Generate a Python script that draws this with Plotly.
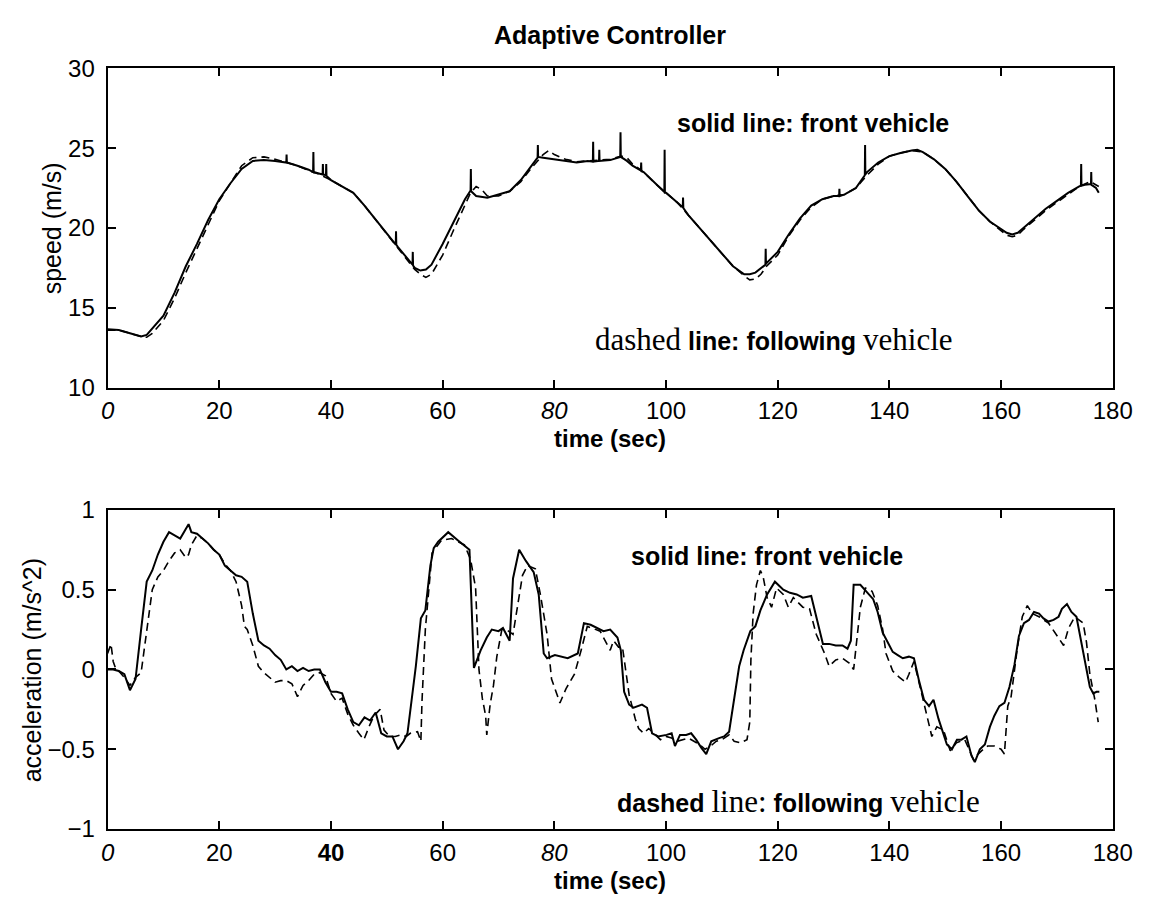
import plotly.graph_objects as go

# ---------------- data ----------------
speed_front_t = [0, 2, 4, 6, 7, 8, 10, 12, 14, 16, 18, 20, 22, 24, 26, 28, 30, 32, 32.05, 32.1, 34, 36,
                 36.8, 36.85, 36.9, 38, 38.5, 38.55, 38.6, 39.1, 39.15, 39.2, 40, 42, 44, 46, 48, 50,
                 51.6, 51.65, 51.7, 52, 54, 54.6, 54.65, 54.7, 55, 56, 57, 58, 60, 62, 64, 65, 65.05, 65.1,
                 66, 68, 70, 72, 74, 76, 77, 77.05, 77.1, 78, 80, 82, 84, 86, 86.9, 86.95, 87, 88, 88.05,
                 88.1, 90, 91.8, 91.85, 91.9, 93, 94, 95.5, 95.55, 95.6, 96, 98, 99.7, 99.75, 99.8, 100,
                 102, 103, 103.05, 103.1, 104, 106, 108, 110, 112, 114, 115, 116, 117, 117.8, 117.85,
                 117.9, 118, 120, 122, 124, 126, 128, 130, 131, 131.05, 131.1, 132, 134, 135, 135.6,
                 135.65, 135.7, 136, 137, 138, 140, 142, 144, 145, 146, 148, 150, 152, 154, 156, 158,
                 160, 161, 162, 163, 164, 166, 168, 170, 172, 174, 174.3, 174.35, 174.4, 175, 176.1,
                 176.15, 176.2, 177, 177.5]
speed_front = [13.65, 13.6, 13.4, 13.2, 13.3, 13.7, 14.5, 15.95, 17.6, 19.0, 20.5, 21.8, 22.8, 23.7, 24.2,
               24.25, 24.2, 24.1, 24.6, 24.1, 23.9, 23.65, 23.5, 24.75, 23.5, 23.4, 23.35, 24.0, 23.35,
               23.3, 24.0, 23.25, 23.0, 22.6, 22.2, 21.4, 20.5, 19.6, 18.95, 19.8, 18.95, 18.8, 17.9,
               17.7, 18.5, 17.65, 17.5, 17.33, 17.4, 17.7, 19.0, 20.4, 21.8, 22.35, 23.7, 22.3, 22.0,
               21.9, 22.1, 22.3, 23.0, 23.9, 24.4, 25.2, 24.45, 24.4, 24.3, 24.2, 24.1, 24.2, 24.15,
               25.4, 24.15, 24.2, 24.9, 24.2, 24.25, 24.45, 26.0, 24.45, 24.2, 23.9, 23.6, 24.1, 23.55,
               23.5, 22.8, 22.25, 24.9, 22.2, 22.2, 21.6, 21.3, 21.9, 21.25, 20.8, 20.0, 19.2, 18.4,
               17.6, 17.1, 17.1, 17.2, 17.45, 17.7, 18.7, 17.75, 17.8, 18.5, 19.6, 20.6, 21.4, 21.8,
               22.0, 22.0, 22.45, 22.0, 22.1, 22.5, 23.0, 23.3, 25.2, 23.35, 23.5, 23.8, 24.1, 24.5,
               24.7, 24.85, 24.9, 24.75, 24.3, 23.7, 22.9, 22.0, 21.1, 20.4, 19.9, 19.7, 19.6, 19.7,
               20.0, 20.6, 21.2, 21.7, 22.2, 22.6, 22.65, 24.0, 22.65, 22.7, 22.75, 23.5, 22.7, 22.5,
               22.2]

speed_follow_t = [0, 2, 4, 6, 7, 8, 10, 12, 14, 16, 18, 20, 22, 24, 26, 28, 30, 32, 34, 36, 38, 40, 42,
                  44, 46, 48, 50, 52, 54, 55, 56, 57, 58, 60, 62, 64, 65, 66, 67, 68, 70, 72, 74, 76, 78,
                  79, 80, 82, 84, 86, 88, 90, 92, 93, 94, 96, 98, 100, 102, 104, 106, 108, 110, 112, 114,
                  115, 116, 117, 118, 120, 122, 124, 126, 128, 130, 132, 134, 136, 138, 140, 142, 144,
                  146, 148, 150, 152, 154, 156, 158, 160, 161, 162, 163, 164, 166, 168, 170, 172, 174,
                  176, 177.5]
speed_follow = [13.6, 13.6, 13.4, 13.2, 13.15, 13.4, 14.2, 15.6, 17.2, 18.7, 20.3, 21.7, 22.8, 23.9,
                24.4, 24.45, 24.3, 24.1, 23.9, 23.6, 23.35, 23.0, 22.6, 22.2, 21.4, 20.5, 19.6, 18.7,
                17.8, 17.4, 17.1, 16.9, 17.1, 18.3, 19.9, 21.4, 22.2, 22.6, 22.4, 22.0, 22.0, 22.3,
                22.9, 23.8, 24.6, 24.85, 24.6, 24.3, 24.15, 24.2, 24.25, 24.3, 24.5, 24.4, 24.0, 23.5,
                22.8, 22.2, 21.6, 20.8, 20.0, 19.2, 18.4, 17.6, 17.0, 16.75, 16.8, 17.1, 17.6, 18.3,
                19.5, 20.5, 21.3, 21.8, 22.0, 22.1, 22.5, 23.3, 24.0, 24.5, 24.7, 24.85, 24.75, 24.3,
                23.7, 22.9, 22.0, 21.1, 20.4, 19.8, 19.55, 19.45, 19.55, 19.9, 20.5, 21.1, 21.6, 22.1,
                22.6, 22.9, 22.6]

accel_front_t = [0, 1, 2, 3, 4, 5, 6, 7, 8, 9, 10, 11, 12, 13, 14, 14.5, 15, 16, 17, 18, 19, 20, 21, 22,
                 23, 24, 25, 26, 27, 28, 29, 30, 31, 32, 33, 34, 35, 36, 37, 38, 39, 40, 41, 42, 43, 44,
                 45, 46, 47, 48, 49, 50, 51, 52, 53, 53.7, 54.3, 55.2, 56.1, 56.9, 57.8, 58.4, 59.2, 61,
                 62.7, 64.8, 65.6, 66.8, 67.9, 68.8, 70, 70.8, 72, 72.6, 73.7, 74.9, 76.3, 77.2, 78.1,
                 78.7, 80.1, 81.3, 82.4, 84.2, 85.3, 86.5, 87.7, 88.8, 90, 91.3, 91.9, 92.5, 93.4, 94.2,
                 95.7, 96.6, 97.5, 98.6, 100.1, 101, 101.6, 102.5, 103.6, 104.5, 105.4, 106.3, 107.2,
                 108.1, 109.5, 110.4, 111.3, 112.2, 113.1, 113.9, 115.1, 116, 116.9, 118.1, 118.9,
                 119.5, 121, 122.2, 123.4, 124.5, 126, 126.9, 128.1, 129.2, 130.4, 131.6, 132.5, 133.1,
                 133.6, 134.8, 135.9, 137.1, 137.9, 138.8, 139.7, 140.6, 141.5, 142.4, 143.5, 144.4,
                 145.3, 146.2, 147.1, 147.9, 148.8, 149.4, 150.3, 151.2, 152.1, 152.9, 153.8, 154.7,
                 155.3, 156.2, 157.1, 158, 158.8, 159.7, 160.6, 161.5, 162.4, 163.2, 164.1, 165, 165.9,
                 166.8, 167.6, 168.5, 169.4, 170.3, 170.9, 171.8, 172.6, 173.5, 174.4, 175.3, 175.9,
                 176.5, 177.1, 177.6]
accel_front = [0.0, 0.0, -0.01, -0.03, -0.13, -0.06, 0.25, 0.55, 0.62, 0.72, 0.80, 0.86, 0.84, 0.82,
               0.88, 0.91, 0.86, 0.85, 0.82, 0.79, 0.75, 0.72, 0.65, 0.62, 0.59, 0.58, 0.55, 0.35, 0.18,
               0.15, 0.13, 0.09, 0.06, 0.0, 0.02, -0.01, 0.01, -0.01, 0.0, 0.0, -0.08, -0.14, -0.14,
               -0.15, -0.25, -0.33, -0.35, -0.30, -0.32, -0.27, -0.40, -0.42, -0.42, -0.50, -0.45,
               -0.40, -0.24, 0.02, 0.32, 0.37, 0.65, 0.76, 0.80, 0.86, 0.81, 0.75, 0.01, 0.12, 0.20,
               0.25, 0.24, 0.26, 0.18, 0.57, 0.75, 0.68, 0.61, 0.47, 0.10, 0.07, 0.09, 0.08, 0.07, 0.10,
               0.29, 0.28, 0.26, 0.24, 0.25, 0.20, 0.12, -0.14, -0.22, -0.24, -0.22, -0.24, -0.40,
               -0.42, -0.41, -0.40, -0.48, -0.41, -0.41, -0.40, -0.44, -0.49, -0.53, -0.45, -0.43,
               -0.42, -0.39, -0.18, 0.02, 0.12, 0.24, 0.27, 0.37, 0.47, 0.52, 0.55, 0.50, 0.48, 0.47,
               0.45, 0.46, 0.33, 0.16, 0.16, 0.15, 0.15, 0.13, 0.18, 0.53, 0.53, 0.49, 0.44, 0.36, 0.23,
               0.17, 0.11, 0.09, 0.07, 0.08, 0.07, -0.07, -0.19, -0.23, -0.19, -0.31, -0.38, -0.47,
               -0.50, -0.44, -0.44, -0.42, -0.54, -0.58, -0.50, -0.47, -0.36, -0.29, -0.23, -0.21,
               -0.11, 0.03, 0.21, 0.29, 0.31, 0.36, 0.35, 0.32, 0.30, 0.31, 0.33, 0.38, 0.41, 0.36,
               0.33, 0.17, 0.01, -0.11, -0.15, -0.14, -0.14]

accel_follow_t = [0, 0.6, 1, 1.5, 2, 3, 4, 5, 6, 7, 8, 9, 10, 11, 12, 13, 14, 14.5, 15, 16, 17, 18, 19,
                  20, 21, 22, 23, 23.4, 24, 24.5, 25, 26, 27, 28, 29, 30, 31, 32, 33, 34, 35, 36, 37, 38,
                  39, 40, 41, 42, 43, 44, 45, 45.9, 46.8, 47.7, 48.8, 49.5, 50.5, 51.5, 52.5, 53.5, 54.2,
                  55.5, 56.1, 56.3, 56.9, 57.5, 58.1, 59.8, 61.6, 63.9, 65, 65.9, 66.5, 67.1, 67.7, 67.9,
                  68.5, 69.1, 69.7, 70.6, 71.4, 72.6, 73.4, 74.3, 75.2, 76.6, 77.5, 78.7, 79.5, 81, 82.1,
                  83.6, 84.8, 85.9, 88.2, 90, 90.6, 91.5, 92.2, 92.8, 93.4, 94.5, 95.1, 96, 96.9, 98.1,
                  99, 100, 101, 102, 103, 104, 105, 106, 107, 108, 109, 110, 111.3, 112.2, 113.4, 114.5,
                  115, 115.2, 115.6, 116.2, 116.9, 117.4, 118.1, 118.9, 119.8, 121, 121.9, 122.8, 124.5,
                  125.7, 126.9, 128.4, 129.2, 130.4, 131.6, 132.8, 133.6, 134.2, 134.8, 135.7, 136.9,
                  137.9, 138.8, 139.4, 140.6, 141.8, 142.9, 143.5, 144.4, 145.3, 146.8, 147.6, 148.5,
                  149.7, 150.9, 152, 153.5, 155, 156.5, 157.6, 158.8, 160, 160.6, 160.9, 161.2, 161.8,
                  162.9, 163.8, 164.7, 165.6, 166.8, 168.5, 170, 171.2, 172.1, 173.2, 174.7, 175.3,
                  175.9, 176.8, 177.4]
accel_follow = [0.10, 0.16, 0.05, 0.0, -0.01, -0.05, -0.10, -0.05, -0.02, 0.23, 0.50, 0.58, 0.62, 0.68,
                0.73, 0.75, 0.70, 0.72, 0.78, 0.84, 0.82, 0.79, 0.75, 0.72, 0.66, 0.62, 0.55, 0.49, 0.40,
                0.27, 0.25, 0.15, 0.02, -0.02, -0.05, -0.08, -0.07, -0.07, -0.09, -0.17, -0.10, -0.07,
                -0.03, -0.02, -0.04, -0.15, -0.20, -0.18, -0.28, -0.35, -0.40, -0.44, -0.36, -0.29,
                -0.25, -0.38, -0.42, -0.42, -0.41, -0.42, -0.40, -0.39, -0.45, -0.20, 0.25, 0.49, 0.73,
                0.81, 0.82, 0.78, 0.69, 0.51, 0.0, -0.18, -0.29, -0.41, -0.22, -0.10, 0.08, 0.25, 0.25,
                0.22, 0.39, 0.59, 0.65, 0.63, 0.47, 0.22, -0.06, -0.21, -0.12, -0.03, 0.12, 0.27, 0.24,
                0.12, 0.18, 0.14, 0.14, 0.0, -0.16, -0.31, -0.37, -0.40, -0.37, -0.41, -0.44, -0.42,
                -0.43, -0.45, -0.44, -0.43, -0.45, -0.47, -0.50, -0.48, -0.45, -0.44, -0.41, -0.45,
                -0.46, -0.44, -0.33, 0.06, 0.35, 0.53, 0.62, 0.58, 0.45, 0.39, 0.51, 0.47, 0.39, 0.45,
                0.39, 0.38, 0.22, 0.10, 0.02, 0.06, 0.07, 0.04, 0.0, 0.20, 0.39, 0.51, 0.49, 0.40, 0.25,
                0.10, -0.01, -0.05, -0.08, -0.03, 0.05, -0.08, -0.31, -0.42, -0.36, -0.38, -0.51, -0.46,
                -0.44, -0.56, -0.51, -0.48, -0.48, -0.50, -0.53, -0.38, -0.23, -0.17, 0.13, 0.33, 0.40,
                0.35, 0.33, 0.29, 0.21, 0.15, 0.26, 0.33, 0.29, 0.17, -0.03, -0.19, -0.33]

x_ticks = [0, 20, 40, 60, 80, 100, 120, 140, 160, 180]
x_ticktext_top = ["<i>0</i>", "20", "40", "60", "<i>80</i>", "100", "120", "140", "160", "180"]
x_ticktext_bottom = ["<i>0</i>", "20", "<b>40</b>", "60", "<i>80</i>", "100", "120", "140", "160", "180"]
speed_ticks = [10, 15, 20, 25, 30]
accel_ticks = [-1, -0.5, 0, 0.5, 1]
accel_ticktext = ["\u22121", "\u22120.5", "0", "0.5", "1"]

# ---------------- figure ----------------
W, H = 1164, 909
SANS = "Liberation Sans, Arial, Helvetica, sans-serif"


def px(x):
    return x / W


def py(y):
    return 1 - y / H


fig = go.Figure()
fig.add_trace(go.Scatter(x=speed_follow_t, y=speed_follow, mode="lines",
                         line=dict(color="black", width=1.6, dash="8px,5px"),
                         xaxis="x", yaxis="y", showlegend=False, hoverinfo="skip"))
fig.add_trace(go.Scatter(x=speed_front_t, y=speed_front, mode="lines",
                         line=dict(color="black", width=2.0),
                         xaxis="x", yaxis="y", showlegend=False, hoverinfo="skip"))
fig.add_trace(go.Scatter(x=accel_follow_t, y=accel_follow, mode="lines",
                         line=dict(color="black", width=1.6, dash="8px,5px"),
                         xaxis="x2", yaxis="y2", showlegend=False, hoverinfo="skip"))
fig.add_trace(go.Scatter(x=accel_front_t, y=accel_front, mode="lines",
                         line=dict(color="black", width=2.0),
                         xaxis="x2", yaxis="y2", showlegend=False, hoverinfo="skip"))

xdom = [px(103), px(1132)]
axis_common = dict(showgrid=False, zeroline=False, showline=True, linecolor="black", linewidth=2,
                   mirror="ticks", ticks="inside", ticklen=8, tickwidth=2, tickcolor="black",
                   tickfont=dict(family=SANS, size=24, color="black"))

fig.update_layout(
    width=W, height=H, margin=dict(l=0, r=0, t=0, b=0),
    paper_bgcolor="white", plot_bgcolor="white", showlegend=False,
    xaxis=dict(domain=xdom, range=[0, 180], anchor="y", tickvals=x_ticks, ticktext=x_ticktext_top,
               ticklabelstandoff=1, **axis_common),
    yaxis=dict(domain=[py(385), py(56)], range=[10, 30], anchor="x", tickvals=speed_ticks,
               ticklabelstandoff=6, **axis_common),
    xaxis2=dict(domain=xdom, range=[0, 180], anchor="y2", tickvals=x_ticks, ticktext=x_ticktext_bottom,
                ticklabelstandoff=1, **axis_common),
    yaxis2=dict(domain=[py(840), py(511)], range=[-1, 1], anchor="x2", tickvals=accel_ticks,
                ticktext=accel_ticktext, ticklabelstandoff=6, **axis_common),
)

serif_span = '<span style="font-family:Liberation Serif;font-size:31px;font-weight:normal">{}</span>'
C = dict(showarrow=False, xanchor="center", yanchor="middle")

annotations = [
    dict(text="<b>Adaptive Controller</b>", xref="paper", yref="paper", x=px(617), y=py(22),
         font=dict(family=SANS, size=25, color="black"), **C),
    # axis titles
    dict(text="speed (m/s)", xref="paper", yref="paper", x=px(47), y=py(221), textangle=-90,
         font=dict(family=SANS, size=25, color="black"), **C),
    dict(text="acceleration (m/s^2)", xref="paper", yref="paper", x=px(26), y=py(676), textangle=-90,
         font=dict(family=SANS, size=25, color="black"), **C),
    dict(text="<b>time (sec)</b>", xref="paper", yref="paper", x=px(617), y=py(438),
         font=dict(family=SANS, size=24, color="black"), **C),
    dict(text="<b>time (sec)</b>", xref="paper", yref="paper", x=px(617), y=py(893),
         font=dict(family=SANS, size=24, color="black"), **C),
    # in-plot labels, top
    dict(text="<b>solid line: front vehicle</b>", xref="x", yref="y", x=126.3, y=26.6,
         font=dict(family=SANS, size=25, color="black"), **C),
    dict(text=serif_span.format("dashed") + " <b>line: following</b> " + serif_span.format("vehicle"),
         xref="x", yref="y", x=119.3, y=13.0, font=dict(family=SANS, size=25, color="black"), **C),
    # in-plot labels, bottom
    dict(text="<b>solid line: front vehicle</b>", xref="x2", yref="y2", x=118.1, y=0.71,
         font=dict(family=SANS, size=25, color="black"), **C),
    dict(text="<b>dashed</b> " + serif_span.format("line:") + " <b>following</b> " + serif_span.format("vehicle"),
         xref="x2", yref="y2", x=123.8, y=-0.83, font=dict(family=SANS, size=25, color="black"), **C),
]
fig.update_layout(annotations=annotations)

fig.write_html("out.html")
